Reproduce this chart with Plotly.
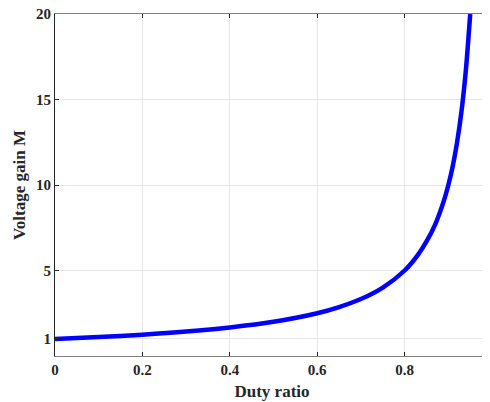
import plotly.graph_objects as go

duty = [0, 0.1, 0.2, 0.3, 0.4, 0.5, 0.6, 0.65, 0.7, 0.75, 0.8, 0.83, 0.85, 0.87,
        0.89, 0.9, 0.91, 0.92, 0.93, 0.94, 0.95]
gain = [1.0, 1.11, 1.25, 1.43, 1.67, 2.0, 2.5, 2.86, 3.33, 4.0, 5.0, 5.9, 6.7, 7.7,
        9.1, 10.0, 11.1, 12.5, 14.3, 16.7, 20.0]

x_ticks = [0, 0.2, 0.4, 0.6, 0.8]
x_tick_labels = ["0", "0.2", "0.4", "0.6", "0.8"]
y_ticks = [1, 5, 10, 15, 20]
y_tick_labels = ["1", "5", "10", "15", "20"]

font_family = "Liberation Serif, Times New Roman, serif"

fig = go.Figure()
fig.add_trace(go.Scatter(
    x=duty, y=gain, mode="lines",
    line=dict(color="#0000FF", width=4.5, shape="spline", smoothing=0.8),
    showlegend=False, cliponaxis=True,
))

axis_common = dict(
    showline=True, mirror="ticks", ticks="inside", ticklen=4, tickwidth=1,
    showgrid=True, gridcolor="#E6E6E6", gridwidth=1, zeroline=False,
    tickfont=dict(family=font_family, size=15, color="#262626"),
    ticklabeloverflow="allow", automargin=False,
)

fig.update_xaxes(
    range=[0, 0.993], tickvals=x_ticks,
    ticktext=["<b>%s</b>" % t for t in x_tick_labels],
    linecolor="#808080", tickcolor="#262626",
    title=dict(text="<b>Duty ratio</b>", font=dict(family=font_family, size=17, color="#262626"), standoff=8),
    **axis_common,
)
fig.update_yaxes(
    range=[0, 20.0001], tickvals=y_ticks,
    ticktext=["<b>%s</b>" % t for t in y_tick_labels],
    linecolor="#262626", tickcolor="#262626",
    title=dict(text="<b>Voltage gain M</b>", font=dict(family=font_family, size=17, color="#262626"), standoff=6),
    **axis_common,
)

fig.update_layout(
    width=482, height=394,
    margin=dict(l=47, r=1, t=6, b=46),
    paper_bgcolor="white", plot_bgcolor="white",
    font=dict(family=font_family, size=15, color="#262626"),
)

fig.write_html("out.html")
